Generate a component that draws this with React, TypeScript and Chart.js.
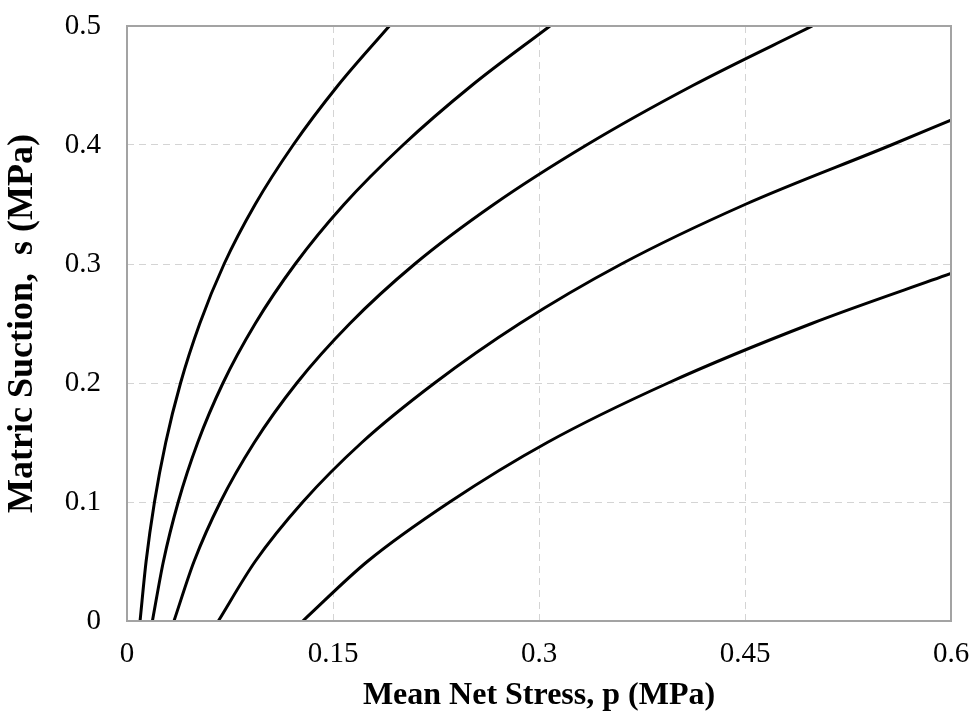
import React, { useEffect, useRef } from "react";
import { Chart, registerables } from "chart.js";
Chart.register(...registerables);

// Axis ticks
const xTicks = [0, 0.15, 0.3, 0.45, 0.6];
const xTickLabels = ["0", "0.15", "0.3", "0.45", "0.6"];
const yTicks = [0, 0.1, 0.2, 0.3, 0.4, 0.5];
const yTickLabels = ["0", "0.1", "0.2", "0.3", "0.4", "0.5"];

// Curves: mean net stress p (MPa) vs matric suction s (MPa)
const curve1P = [0.0095, 0.0139, 0.02, 0.0282, 0.039, 0.053, 0.0707, 0.0933, 0.121, 0.1536, 0.191];
const curve1S = [0, 0.05, 0.1, 0.15, 0.2, 0.25, 0.3, 0.35, 0.4, 0.45, 0.5];
const curve2P = [0.0185, 0.0265, 0.0373, 0.0515, 0.0699, 0.0934, 0.1225, 0.158, 0.201, 0.251, 0.308];
const curve2S = [0, 0.05, 0.1, 0.15, 0.2, 0.25, 0.3, 0.35, 0.4, 0.45, 0.5];
const curve3P = [0.0342, 0.0488, 0.068, 0.0927, 0.1237, 0.1623, 0.2095, 0.267, 0.3346, 0.412, 0.499];
const curve3S = [0, 0.05, 0.1, 0.15, 0.2, 0.25, 0.3, 0.35, 0.4, 0.45, 0.5];
const curve4P = [0.0665, 0.0933, 0.128, 0.171, 0.224, 0.286, 0.36, 0.45, 0.5565, 0.6];
const curve4S = [0, 0.05, 0.1, 0.15, 0.2, 0.25, 0.3, 0.35, 0.4, 0.421];
const curve5P = [0.128, 0.175, 0.235, 0.306, 0.394, 0.4986, 0.6];
const curve5S = [0, 0.05, 0.1, 0.15, 0.2, 0.25, 0.292];

const curves = [
  [curve1P, curve1S],
  [curve2P, curve2S],
  [curve3P, curve3S],
  [curve4P, curve4S],
  [curve5P, curve5S],
];

const FONT = "'Liberation Serif', 'Times New Roman', serif";

const framePlugin = {
  id: "frame",
  afterDatasetsDraw(chart: any) {
    const { ctx, chartArea } = chart;
    const { left, top, right, bottom } = chartArea;
    ctx.save();
    ctx.strokeStyle = "#a3a3a3";
    ctx.lineWidth = 2;
    ctx.strokeRect(left, top, right - left, bottom - top);
    ctx.restore();
  },
};

export default function App() {
  const ref = useRef<HTMLCanvasElement | null>(null);

  useEffect(() => {
    if (!ref.current) return;
    const chart = new Chart(ref.current, {
      type: "scatter",
      data: {
        datasets: curves.map(([ps, ss], i) => ({
          label: "Curve " + (i + 1),
          data: ps.map((p, j) => ({ x: p, y: ss[j] })),
          showLine: true,
          borderColor: "#000000",
          backgroundColor: "#000000",
          borderWidth: 3,
          pointRadius: 0,
          cubicInterpolationMode: "monotone",
        })),
      },
      options: {
        responsive: false,
        animation: false,
        layout: { padding: { top: 26, right: 22, left: 0, bottom: 0 } },
        plugins: {
          legend: { display: false },
          tooltip: { enabled: false },
        },
        scales: {
          x: {
            type: "linear",
            min: 0,
            max: 0.6,
            afterBuildTicks: (scale: any) => {
              scale.ticks = xTicks.map((v) => ({ value: v }));
            },
            afterFit: (scale: any) => {
              scale.height = 99;
              scale.paddingLeft = 0;
              scale.paddingRight = 0;
            },
            ticks: {
              callback: (_v: any, i: number) => xTickLabels[i],
              font: { family: FONT, size: 29 },
              color: "#000000",
              padding: 16,
              maxRotation: 0,
            },
            grid: { color: "#d4d4d4", lineWidth: 1, drawTicks: false },
            border: { display: false, dash: [7, 5] },
            title: {
              display: true,
              text: "Mean Net Stress, p (MPa)",
              font: { family: FONT, size: 32, weight: "bold" },
              color: "#000000",
              padding: { top: 0, bottom: 5 },
            },
          },
          y: {
            type: "linear",
            min: 0,
            max: 0.5,
            afterBuildTicks: (scale: any) => {
              scale.ticks = yTicks.map((v) => ({ value: v }));
            },
            afterFit: (scale: any) => {
              scale.width = 127;
              scale.paddingTop = 0;
              scale.paddingBottom = 0;
            },
            ticks: {
              callback: (_v: any, i: number) => yTickLabels[i],
              font: { family: FONT, size: 29 },
              color: "#000000",
              padding: 26,
            },
            grid: { color: "#d4d4d4", lineWidth: 1, drawTicks: false },
            border: { display: false, dash: [7, 5] },
            title: {
              display: true,
              text: "Matric Suction,  s (MPa)",
              font: { family: FONT, size: 36, weight: "bold" },
              color: "#000000",
              padding: { top: 1, bottom: 0 },
            },
          },
        },
      },
      plugins: [framePlugin],
    });
    return () => chart.destroy();
  }, []);

  return (
    <div style={{ position: "absolute", left: 0, top: 0, width: 973, height: 720, background: "#ffffff" }}>
      <canvas ref={ref} width={973} height={720} style={{ display: "block" }} />
    </div>
  );
}
